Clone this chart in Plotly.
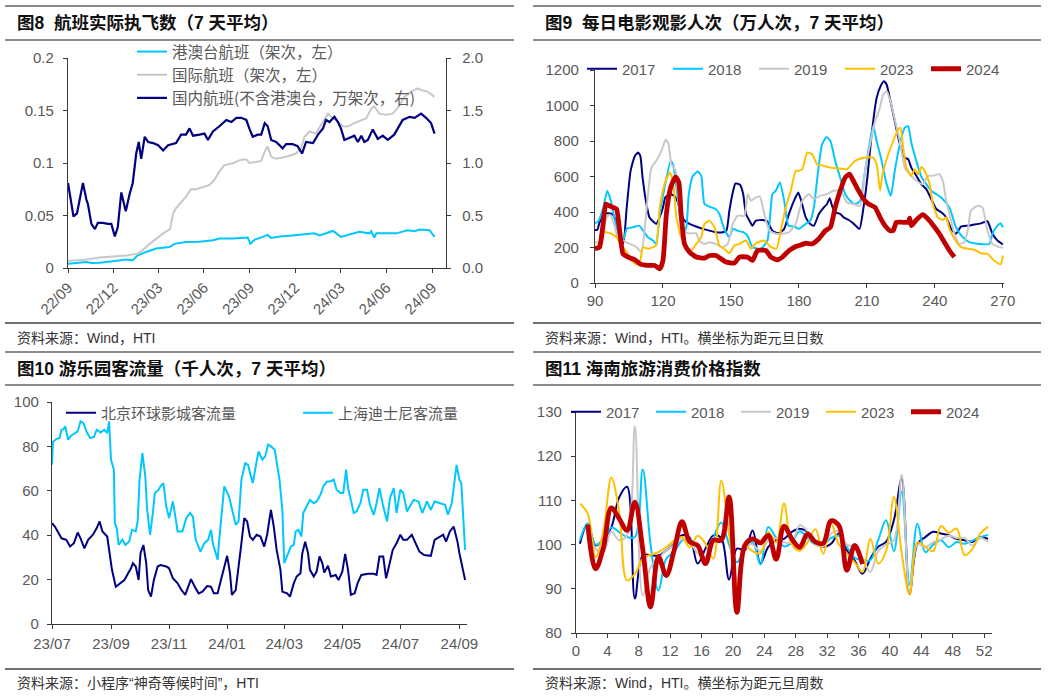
import plotly.graph_objects as go
import pandas as pd

W, H = 1049, 697
def fx(px): return px / W
def fy(py): return 1 - py / H

# ---------------- DATA ----------------
# Fig 8 : flights (day offset from 2022-09-01)
hk_days = [0,23,37,47,64,90,117,130,140,157,177,204,214,237,264,291,304,331,361,366,
           375,391,401,408,425,451,478,495,505,532,548,565,585,605,609,615,619,639,659,682,
           696,706,726,736]
hk_vals = [0.004,0.0048,0.0057,0.0048,0.005,0.0064,0.008,0.0073,0.012,0.0153,
           0.0185,0.020,0.023,0.0248,0.025,0.0264,0.028,0.028,0.029,0.023,
           0.027,0.0296,0.0315,0.0287,0.030,0.031,0.0318,0.033,0.031,0.0353,
           0.0296,0.032,0.0344,0.033,0.035,0.029,0.033,0.033,0.033,0.036,
           0.035,0.0366,0.036,0.0296]
intl_days = [0,37,64,94,117,140,150,164,177,191,205,211,217,227,237,247,257,271,284,294,
             304,314,331,341,348,358,364,378,388,395,401,408,418,438,458,468,475,485,498,512,
             522,528,538,552,562,575,589,599,609,615,625,639,652,665,675,689,702,712,722,736]
intl_vals = [0.0067,0.008,0.0099,0.011,0.012,0.0137,0.017,0.023,0.028,0.033,
             0.037,0.052,0.057,0.062,0.068,0.075,0.075,0.077,0.079,0.084,
             0.092,0.098,0.0997,0.102,0.103,0.1035,0.100,0.101,0.102,0.111,
             0.1156,0.106,0.104,0.106,0.109,0.114,0.125,0.130,0.128,0.1395,
             0.147,0.144,0.141,0.135,0.1347,0.138,0.141,0.1427,0.152,0.154,
             0.147,0.146,0.147,0.154,0.163,0.168,0.171,0.169,0.168,0.163]
dom_days = [0,7,11,18,23,30,37,40,47,54,60,70,80,87,94,100,107,116,124,130,
            137,142,147,154,161,171,181,191,201,211,217,227,237,244,251,264,274,281,291,304,
            318,328,338,348,358,364,371,381,388,395,401,408,418,431,438,451,461,470,478,492,
            502,512,518,525,535,542,548,555,565,575,582,589,595,602,612,622,632,642,655,672,
            686,696,709,719,729,736]
dom_vals = [0.81,0.58,0.49,0.52,0.65,0.81,0.65,0.61,0.42,0.37,0.43,0.43,0.42,0.42,0.30,0.39,0.72,0.54,0.71,0.81,
            1.09,1.20,1.04,1.25,1.20,1.19,1.17,1.12,1.17,1.18,1.19,1.27,1.27,1.33,1.26,1.27,1.28,1.22,1.30,1.35,
            1.41,1.39,1.43,1.43,1.41,1.33,1.25,1.27,1.27,1.38,1.35,1.22,1.20,1.14,1.18,1.18,1.16,1.09,1.20,1.19,
            1.27,1.33,1.41,1.39,1.44,1.39,1.33,1.22,1.24,1.26,1.20,1.26,1.20,1.22,1.32,1.23,1.26,1.22,1.27,1.41,
            1.44,1.43,1.47,1.43,1.38,1.28]

# Fig 9 : daily cinema admissions (days since Jan 1)
m17_d = [90,91,92,94,96,98,99.5,101,102.5,104,105.7,107.6,109,110,111,112.7,114,116,117,118.5,
         120,121,123,125,126.6,128,129.5,131.7,134.6,137.6,140.5,143.4,146.4,148,149.3,150.8,152,154,155.4,156.6,
         158,159.5,161,164,166,168.3,171,173.5,175.6,177.8,179.7,
         181,183,185,186.6,188.8,191,192.4,193.6,194.6,196,198.2,199.7,202,204,206.7,208.5,210.2,212,214.3,216,
         217.5,218.7,220.4,222.3,224.2,226.7,228.2,229.6,231.8,234,236.2,238.4,240.6,242.8,245,247.2,249.3,251.5,254.5,257.4,
         260.3,263.2,265.4,267.6,270]
m17_v = [299,299,342,389,393,385,333,258,224,426,632,716,735,716,594,445,370,342,333,370,
         426,482,501,491,454,389,351,333,318,305,295,286,286,295,407,510,561,553,501,389,
         355,323,351,355,348,295,280,305,389,463,510,
         463,370,333,323,389,426,445,478,435,398,389,370,355,336,305,426,594,828,1043,1108,
         1136,1118,1024,912,800,706,697,650,604,557,529,473,417,398,370,305,277,318,323,329,
         336,348,277,239,217]
m18_d = [90,91.5,93.7,95.4,97,98.8,101,102.4,104,106.8,109.5,111.2,113.4,115.6,117,118.6,120.7,123.4,124.4,125.6,
         127,128.8,130.3,131.4,133.2,135.4,136.9,138.3,140.5,143.2,144.9,147,149.3,150.8,152.9,155.4,157.3,159.5,163.2,166.1,
         168.3,169.8,171.6,173.5,175.4,177.8,
         180,183,185,186.6,188.3,190.2,192.1,193.9,196,198.2,200.4,202.6,204.8,207,209.2,211.1,212.8,214.3,216.5,218.7,
         220.6,222.3,224.5,226.7,228.2,229.6,231.8,234,238.4,242.8,246.4,249.3,252.3,255.2,259.6,264,265.4,267.6,269,270]
m18_v = [336,348,426,520,463,351,258,239,305,314,323,295,258,239,220,389,538,688,669,576,
         426,277,314,501,604,628,604,445,430,417,389,305,258,305,295,286,267,202,193,239,
         501,520,566,463,323,318,
         305,333,351,426,613,781,822,800,688,594,501,463,445,463,632,781,884,800,688,557,
         492,632,781,875,884,791,688,600,520,482,426,314,258,230,220,220,277,323,336,314]
m19_d = [90,93,95,96.6,98,100,102.4,105.4,108.3,110.5,112,113.4,114.9,117,119.3,121.2,122.5,123.7,125.6,127,
         128.8,131,134.6,136,138.3,140.5,143.4,146.4,148.6,150.8,153,155.9,157.4,158.8,161,162.8,164.7,166.9,169.8,172.7,
         175.6,178.6,
         180,181.5,184.4,186.6,189.5,192.4,195.3,198.2,201.2,204,207,209.2,211.4,213.6,215.5,217.2,218.7,220.4,222.3,224.5,
         226.7,228.9,231.8,234.7,236.9,239.1,242,243.5,245,246.4,248.6,250.8,253,254.5,255.9,258.8,261,263.2,265.4,268.3,270]
m19_v = [230,230,370,385,351,258,239,220,202,174,314,501,650,688,744,809,780,669,632,445,
         305,280,280,239,220,230,220,202,220,333,379,379,501,463,482,486,389,295,277,277,
         286,333,
         400,463,501,473,492,501,520,520,454,445,435,632,781,912,978,1062,1080,1024,921,800,
         650,613,576,557,604,604,613,576,463,389,277,220,230,295,407,435,426,295,220,202,198]
m23_d = [90,91,93,95,97.3,99.5,101.7,104,106,108.3,109.8,111.2,113.4,115.6,117,118.6,120.7,123,124.4,125.9,
         128,130.3,132.5,134.7,136.9,138.3,140.5,142.7,144.9,147.1,149.3,151.5,153.7,156.6,158.8,161,164.7,167.6,170.1,172,
         174.2,176.4,178.6,
         180,181.5,183.6,185.8,188,191,193.9,196.8,201.2,204.8,208.5,212.8,214.3,215.8,216.9,218.7,221.6,223.8,224.8,226,
         227.4,229.6,231.1,232.6,234,235.5,237.7,239.1,241.3,243.5,245,246.4,248.6,251.5,254.5,257.4,260.3,263.2,266.1,269,270]
m23_v = [211,193,286,286,277,258,211,174,127,105,118,202,193,202,211,426,557,622,576,370,
         258,211,183,220,258,333,351,314,211,193,168,211,220,239,193,224,239,202,193,295,
         426,520,632,
         632,641,735,726,669,660,650,647,641,688,706,706,669,520,613,697,800,865,875,764,
         650,604,641,613,654,632,557,445,370,355,370,305,249,202,193,187,168,164,127,105,155]
m24_d = [90,92,93.4,94.8,96.3,98,99.5,100.7,102.4,104.6,107.6,109.8,113.4,116.4,118.6,120,121.5,123.4,125.6,127,
         128,129.5,131.7,134.7,138.3,140.5,143.4,145.6,147.8,151.5,153.7,157.3,159.5,161.7,165.4,167.6,170.5,172.7,175.6,178.6,
         180,183,185.8,188.8,191.7,193.9,196,198.2,200.4,202.3,204,206.3,208.5,210.7,213.6,215.8,218,220.1,221.6,223,
         226,228.2,228.9,229.6,231.8,234.7,236.9,239.9,242,244.2,246.4,248.6]
m24_v = [193,202,314,445,435,426,417,314,164,146,131,108,99,99,80,127,389,538,598,566,
         389,220,174,146,140,155,155,136,118,112,146,146,127,183,183,146,131,146,183,206,
         211,224,220,249,295,314,426,520,594,613,576,520,473,445,426,370,323,295,295,342,
         342,342,366,323,355,385,361,314,277,230,183,146]

# Fig 10 : theme parks (day offset from 2023-07-01)
sh_days = [0,1,4.5,8,10,12,14,17,20,24,27,30,33,37,40,44,47,51,55,58,
           60,62,65,66,68,70,74,77,81,84,88,90,92,95,98,100,103,106,108,112,
           114,117,120,123,127,129,132,137,141,145,148,151,156,160,164,167,169,172,174,176,
           179,181,186,189,193,196,199,203,206,209,211,214,217,221,224,227,230,234,237,239,
           242,244,246,249,251,254,256,259,262,264,268,271,275,278,282,285,289,292,296,299,
           303,306,309,311,314,317,320,324,327,331,334,338,341,344,348,352,355,359,362,366,
           369,373,376,380,385,389,394,398,402,407,413,416,420,422,425,428,430,434]
sh_vals = [71.7,82,83.3,83.8,87.5,87.8,89,83,84.8,86,86.8,91.3,90.5,86,83.8,84.2,87.5,86.3,87.5,86,
           91.3,74,69.5,45.4,43.2,35.6,38,35.6,37.1,42.4,41.7,46.2,65,77,66.5,51.4,40.2,50,59,60.5,
           62,63.5,53,47.7,55.2,50,41.7,41.7,47.7,50,48.4,37.9,32.6,36.4,37.9,42.4,36.4,31.9,28.9,39.4,
           53,62,57.4,51.4,44.7,46.2,65,72.5,71.7,66.5,63.5,71,77.7,74,75.5,80.8,80,78.5,71,65,
           51.4,27.4,29.6,33.4,34.9,35.6,41.7,42.4,39.4,50,53.7,55.9,54.4,55.2,58.2,62,64.2,64.2,65,60.5,
           59,59,69.5,61.2,55.9,50,50.7,54.4,60.5,60.5,53.7,49.2,54.4,61.2,53,46.2,56.7,61.2,50,60.5,
           59,50.7,53,55.9,55.2,50,55.2,51.4,55.2,54.4,53.7,49.2,54.4,61.2,71.7,65,63.5,33.4]
bj_days = [0,3,6,10,15,19,23,27,30,34,38,43,47,50,53,58,60,63,67,71,
           76,80,83,85,88,91,93,96,99,101,104,107,111,114,120,123,127,132,136,140,
           143,146,150,154,158,163,167,170,174,177,181,184,187,189,193,196,199,202,205,208,
           211,215,219,223,226,230,233,236,240,242,247,250,254,257,261,263,266,269,271,275,
           278,281,284,286,290,293,298,301,305,308,311,314,318,321,325,332,338,341,344,348,
           351,354,358,362,366,369,373,378,383,386,391,398,402,405,411,414,418,422,426,428,
           430,434]
bj_vals = [45.4,43.9,41.7,38.6,37.9,34.9,36.4,41.2,38.6,34.1,37.9,40.2,43.2,46.2,41.7,39.4,33.4,24.4,16.8,18.3,
           19.8,22.9,25.1,27.4,25.9,19.8,31.9,35.6,27.4,15.3,12.3,19.8,25.9,26.6,25.9,25.1,20.6,18.3,15.3,13.1,
           16.8,20.2,16.8,13.8,14.6,17.1,16.8,13.8,13.8,19.1,26.6,30.7,22.9,13.1,15.3,27.4,36.4,47.7,46.2,39.4,
           37.9,40.2,39.4,34.9,40.2,51.4,43.9,33.4,24.4,14.6,13.8,12.3,18.3,21.4,22.9,31.9,37.1,31.9,24.4,21.4,
           23.6,30.4,27.4,23.2,26.2,21.4,22.1,19.8,23.6,31.6,24.4,13.1,13.8,18.3,22.1,22.6,22.6,22.1,30.4,30.4,
           20.6,25.9,33.4,36.4,40.2,37.9,37.9,40.2,34.9,32.6,31.1,30.7,37.9,38.6,40.2,37.1,41.7,43.9,37.1,31.9,
           27.4,19.8]

# Fig 11 : Hainan tourism price index, by week index
weeks = list(range(53))
week_tick_labels = [str(4 * j) for j in range(14)]
p17 = [100.2,104.7,99.8,101.3,103.9,110.7,113.1,87.8,97.6,97.6,
       97.5,98.7,100.2,102.1,101.5,95.7,99.1,102.1,101.5,92.1,
       99.1,98.7,103.2,95.7,99.5,101,101.3,102.9,103.6,102.9,
       100.6,99.5,100.2,102.5,98.7,96.4,93.4,96.8,99.5,100.6,
       105.5,114.9,88.8,100.2,101.7,102.9,102.5,102.1,101.3,101,
       100.6,101.7,101.3]
p18 = [101,104.8,100,101,103.9,102.8,101.7,101.7,117,100,
       89.6,96.8,98.3,100.9,101.2,99.4,97,101.5,105,100,
       96,99,100.5,95.5,104,101.5,99.6,100.5,103,101.5,
       100,100,101.5,102,99.5,97,96.5,96.5,101,105.5,
       98.5,112,91,104.7,98.3,100,101,99.4,100.6,100.2,
       100.9,101.7,102.2]
p19 = [None,104.5,99,98.3,102.9,101,102.1,126.8,88.5,94.9,
       96.8,98.7,100,101.2,100.5,98,97,101.5,101.3,105,
       92,99.5,100,98.5,101,101.5,100.5,100.5,104.4,103,
       100,99.6,102.5,103,100,99.5,97,93.8,98.5,100,
       101,115.8,89.3,100,99.5,100.5,101.2,102,101.5,101.5,
       99.8,101.5,100.6]
p23 = [109.3,107,97.2,103.2,115.2,107.5,91.9,93.4,96.8,97.7,
       98.3,99.4,100.9,101.7,99.4,102,100.2,96.8,114.5,102.4,
       91,99.8,98.5,98,102.9,100.5,109.3,100,98.6,100.5,
       103.5,97.9,104.7,100,98,96,93.8,101.3,95.7,98.5,
       110.8,98,88.7,100.5,99.5,98.5,104.2,102.7,103.6,97.6,
       99,102.5,104]
p24 = [None,104.5,94.5,99.4,108.3,105.9,103.2,109.6,99,85.9,
       97.3,93,98.7,105.2,100.6,99.8,95.7,101,101,110.8,
       84.7,99.8,101.3,100.4,102.1,96.7,104.2,101.3,99.4,102.4,
       100.6,100.3,105.4,104.3,94.2,99.8,95.6]

for a, b, n in [(hk_days, hk_vals, "hk"), (intl_days, intl_vals, "intl"), (dom_days, dom_vals, "dom"),
                (m17_d, m17_v, "m17"), (m18_d, m18_v, "m18"), (m19_d, m19_v, "m19"),
                (m23_d, m23_v, "m23"), (m24_d, m24_v, "m24"), (sh_days, sh_vals, "sh"),
                (bj_days, bj_vals, "bj")]:
    if len(a) != len(b):
        raise ValueError(f"{n}: {len(a)} vs {len(b)}")

# ---------------- STYLE ----------------
NUMF = "Liberation Sans, Arial, Noto Sans CJK SC, sans-serif"
CJKF = "Noto Sans CJK SC, Liberation Sans, sans-serif"
TXT = "#595959"
AX = "#3a3a3a"
NAVY = "#000080"; CYAN = "#00C8FF"; LGRAY = "#C8C8C8"; GOLD = "#FFC000"; RED = "#C00000"

base1 = pd.Timestamp("2022-09-01")
base3 = pd.Timestamp("2023-07-01")
def todate(base, days):
    return [base + pd.Timedelta(days=float(d)) for d in days]

fig = go.Figure()

# Fig 8
fig.add_trace(go.Scatter(x=todate(base1, hk_days), y=hk_vals, name="港澳台航班（架次，左）",
                         xaxis="x", yaxis="y", mode="lines", line=dict(color=CYAN, width=2), legend="legend"))
fig.add_trace(go.Scatter(x=todate(base1, intl_days), y=intl_vals, name="国际航班（架次，左）",
                         xaxis="x", yaxis="y", mode="lines", line=dict(color=LGRAY, width=2), legend="legend"))
fig.add_trace(go.Scatter(x=todate(base1, dom_days), y=dom_vals, name="国内航班(不含港澳台，万架次，右)",
                         xaxis="x", yaxis="y2", mode="lines", line=dict(color=NAVY, width=2.2), legend="legend"))

# Fig 9
for d, v, nm, col, wd in [(m17_d, m17_v, "2017", NAVY, 2), (m18_d, m18_v, "2018", CYAN, 2),
                          (m19_d, m19_v, "2019", LGRAY, 2), (m23_d, m23_v, "2023", GOLD, 2),
                          (m24_d, m24_v, "2024", RED, 4.8)]:
    fig.add_trace(go.Scatter(x=d, y=v, name=nm, xaxis="x2", yaxis="y3", mode="lines",
                             line=dict(color=col, width=wd, shape="spline", smoothing=0.5), legend="legend2"))

# Fig 10
fig.add_trace(go.Scatter(x=todate(base3, bj_days), y=bj_vals, name="北京环球影城客流量",
                         xaxis="x3", yaxis="y4", mode="lines", line=dict(color=NAVY, width=2), legend="legend3"))
fig.add_trace(go.Scatter(x=todate(base3, sh_days), y=sh_vals, name="上海迪士尼客流量",
                         xaxis="x3", yaxis="y4", mode="lines", line=dict(color=CYAN, width=2), legend="legend3"))

# Fig 11
for v, nm, col, wd in [(p17, "2017", NAVY, 2), (p18, "2018", CYAN, 2), (p19, "2019", LGRAY, 2),
                       (p23, "2023", GOLD, 2), (p24, "2024", RED, 4.8)]:
    fig.add_trace(go.Scatter(x=weeks[:len(v)], y=v, name=nm, xaxis="x4", yaxis="y5", mode="lines",
                             line=dict(color=col, width=wd, shape="spline", smoothing=1), legend="legend4"))

def ax(**kw):
    d = dict(showline=True, linecolor=AX, linewidth=1.3, ticks="outside", ticklen=4,
             tickcolor=AX, tickwidth=1.3, showgrid=False, zeroline=False,
             tickfont=dict(family=NUMF, size=15, color=TXT))
    d.update(kw)
    return d

lay = dict(
    width=W, height=H, autosize=False,
    margin=dict(l=0, r=0, t=0, b=0, pad=0, autoexpand=False),
    paper_bgcolor="white", plot_bgcolor="white",
    font=dict(family=CJKF, size=15, color=TXT),
    showlegend=True,
    xaxis=ax(domain=[fx(68), fx(446)], anchor="y", type="date",
             range=[base1, base1 + pd.Timedelta(days=759)],
             tick0="2022-09-01", dtick="M3", tickformat="%y/%m", tickangle=-45),
    yaxis=ax(domain=[fy(268), fy(58)], anchor="x", range=[0, 0.2], dtick=0.05, ticklabelstandoff=6),
    yaxis2=ax(overlaying="y", side="right", anchor="x", range=[0, 2], dtick=0.5, tickformat=".1f",
              ticklabelstandoff=8),
    xaxis2=ax(domain=[fx(595), fx(1004)], anchor="y3", range=[90, 270.5], tick0=90, dtick=30),
    yaxis3=ax(domain=[fy(283), fy(70)], anchor="x2", range=[0, 1200], dtick=200, ticklabelstandoff=8),
    xaxis3=ax(domain=[fx(52), fx(467)], anchor="y4", type="date",
              range=[base3, base3 + pd.Timedelta(days=436)],
              tick0="2023-07-01", dtick="M2", tickformat="%y/%m", ticklabelstandoff=2),
    yaxis4=ax(domain=[fy(624), fy(402)], anchor="x3", range=[0, 100], dtick=20, ticklabelstandoff=5),
    xaxis4=ax(domain=[fx(576), fx(992)], anchor="y5", range=[-0.5, 52.5],
              tickvals=[-0.5 + 4 * j for j in range(14)], ticktext=week_tick_labels),
    yaxis5=ax(domain=[fy(633), fy(412)], anchor="x4", range=[80, 130], dtick=10, ticklabelstandoff=6),
    legend=dict(x=fx(132), y=fy(35), xanchor="left", yanchor="top", orientation="v",
                bgcolor="rgba(0,0,0,0)", font=dict(family=CJKF, size=15.5, color=TXT),
                itemclick=False),
    legend2=dict(x=fx(582), y=fy(69), xanchor="left", yanchor="middle", orientation="h",
                 bgcolor="rgba(0,0,0,0)", entrywidth=41, entrywidthmode="pixels",
                 font=dict(family=NUMF, size=15, color=TXT)),
    legend3=dict(x=fx(61), y=fy(413), xanchor="left", yanchor="middle", orientation="h",
                 bgcolor="rgba(0,0,0,0)", entrywidth=192, entrywidthmode="pixels",
                 font=dict(family=CJKF, size=15, color=TXT)),
    legend4=dict(x=fx(566), y=fy(412), xanchor="left", yanchor="middle", orientation="h",
                 bgcolor="rgba(0,0,0,0)", entrywidth=40, entrywidthmode="pixels",
                 font=dict(family=NUMF, size=15, color=TXT)),
)
fig.update_layout(**lay)

# rules
shapes = []
def hline(x0, x1, y, color, w):
    shapes.append(dict(type="line", xref="paper", yref="paper", x0=fx(x0), x1=fx(x1),
                       y0=fy(y), y1=fy(y), line=dict(color=color, width=w)))
for (xa, xb) in [(5, 514), (533, 1041)]:
    hline(xa, xb, 6, "#8c8c8c", 2)
    hline(xa, xb, 40, "#8c8c8c", 2)
    hline(xa, xb, 323, "#404040", 1.3)
    hline(xa, xb, 352, "#8c8c8c", 2)
    hline(xa, xb, 385, "#8c8c8c", 2)
    hline(xa, xb, 669, "#404040", 1.3)
fig.update_layout(shapes=shapes)

NB = "\u00a0"
titles = [
    (15, 23, f"图8{NB}{NB}航班实际执飞数（7{NB}天平均）"),
    (543, 23, f"图9{NB}{NB}每日电影观影人次（万人次，7{NB}天平均）"),
    (15, 369, f"图10{NB}游乐园客流量（千人次，7{NB}天平均）"),
    (543, 369, f"图11{NB}海南旅游消费价格指数"),
]
sources = [
    (15, 338, "资料来源：Wind，HTI"),
    (543, 338, "资料来源：Wind，HTI。横坐标为距元旦日数"),
    (15, 683, "资料来源：小程序“神奇等候时间”，HTI"),
    (543, 683, "资料来源：Wind，HTI。横坐标为距元旦周数"),
]
anns = []
for x, y, t in titles:
    anns.append(dict(xref="paper", yref="paper", x=fx(x), y=fy(y), xanchor="left", yanchor="middle",
                     text=f"<b>{t}</b>", showarrow=False,
                     font=dict(family="Liberation Sans, Noto Sans CJK SC", size=17.5, color="#111111")))
for x, y, t in sources:
    anns.append(dict(xref="paper", yref="paper", x=fx(x), y=fy(y), xanchor="left", yanchor="middle",
                     text=t, showarrow=False,
                     font=dict(family="Liberation Sans, Noto Sans CJK SC", size=14, color="#333333")))
fig.update_layout(annotations=anns)

fig.write_html("out.html", config={"displayModeBar": False},
               post_script="document.body.style.margin='0px';document.body.style.padding='0px';")
